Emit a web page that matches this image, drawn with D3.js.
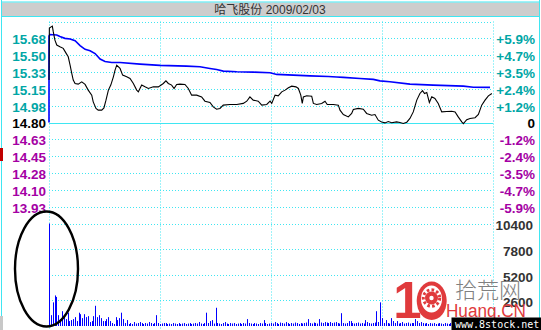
<!DOCTYPE html>
<html>
<head>
<meta charset="utf-8">
<script src="https://cdn.jsdelivr.net/npm/d3@7"></script>
<style>
  html, body { margin: 0; padding: 0; background: #fff; }
  svg { display: block; }
</style>
</head>
<body>
<svg id="chart" width="541" height="330"></svg>
<script>
// ---- data ----
const stockName = "哈飞股份";
const tradeDate = "2009/02/03";
const preClose = 14.80;

// left / right tick labels, top to bottom (+5 .. -5 steps)
const priceLabels = ["15.68", "15.50", "15.33", "15.15", "14.98", "14.80", "14.63", "14.45", "14.28", "14.10", "13.93"];
const pctLabels = ["+5.9%", "+4.7%", "+3.5%", "+2.4%", "+1.2%", "0", "-1.2%", "-2.4%", "-3.5%", "-4.7%", "-5.9%"];
const volTicks = [10400, 7800, 5200, 2600];
const volLabels = ["10400", "7800", "5200", "2600"];

// price line (minute, price)
const priceMinutes = [0, 0.2, 1.8, 2.3, 3.2, 4.2, 5.9, 7.7, 9.2, 10.4, 11.4, 12.3, 13.1, 14.1, 15.8, 17.7, 19.5, 21.2, 23.1, 23.9,
  25.4, 26.6, 28.5, 29.7, 30.8, 32.1, 33.4, 34.8, 35.7, 36.6, 38.4, 39.8, 42.0, 43.8, 45.6, 47.4, 48.3, 50.1, 51.9, 53.7,
  56.4, 59.1, 61.8, 63.2, 64.5, 66.3, 67.6, 69.0, 70.8, 73.5, 75.3, 77.1, 79.8, 82.5, 84.3, 87.0, 88.8, 90.6, 92.4, 94.2,
  97.8, 101.5, 105.0, 106.9, 108.6, 110.4, 113.1, 115.0, 117.7, 119.5, 120.4, 122.2, 123.9, 125.8, 127.6, 129.4, 131.2, 133.5, 134.8, 136.1,
  136.9, 137.5, 139.3, 142.0, 142.9, 144.7, 147.4, 149.2, 150.4, 153.7, 156.4, 157.3, 159.1, 161.8, 163.6, 164.5, 167.2, 169.9, 171.7, 174.4,
  176.2, 178.0, 179.8, 181.6, 183.4, 185.2, 187.9, 189.7, 191.5, 193.4, 195.1, 196.9, 198.8, 200.5, 201.9, 203.0, 204.2, 205.6, 206.9, 208.6,
  210.4, 212.3, 215.0, 217.7, 219.5, 221.2, 223.1, 224.0, 225.8, 227.6, 230.3, 232.1, 233.9, 235.7, 237.5, 239.4];
const prices = [15.24, 15.78, 15.80, 15.742, 15.655, 15.604, 15.586, 15.569, 15.520, 15.482, 15.395, 15.309, 15.240, 15.205, 15.198, 15.222, 15.195, 15.136, 15.084, 15.014,
  14.946, 14.928, 14.928, 14.952, 15.032, 15.136, 15.188, 15.274, 15.344, 15.395, 15.361, 15.292, 15.274, 15.257, 15.205, 15.136, 15.118, 15.188, 15.170, 15.153,
  15.170, 15.170, 15.205, 15.232, 15.205, 15.188, 15.153, 15.195, 15.198, 15.195, 15.153, 15.084, 15.084, 15.066, 15.021, 15.008, 14.962, 14.938, 14.946, 14.980,
  14.987, 14.987, 14.998, 15.021, 15.066, 15.032, 15.021, 14.980, 14.987, 15.021, 14.998, 15.084, 15.077, 15.118, 15.136, 15.160, 15.177, 15.170, 15.153, 15.084,
  14.998, 15.066, 15.077, 15.073, 14.998, 14.987, 14.998, 15.021, 14.987, 14.987, 14.980, 14.928, 14.883, 14.858, 14.894, 14.935, 14.946, 14.938, 14.894, 14.876,
  14.883, 14.824, 14.806, 14.796, 14.810, 14.798, 14.806, 14.800, 14.790, 14.803, 14.842, 14.910, 15.032, 15.101, 15.131, 15.101, 15.112, 15.008, 15.066, 15.050,
  14.998, 14.910, 14.914, 14.917, 14.910, 14.858, 14.806, 14.788, 14.829, 14.842, 14.850, 14.883, 14.980, 15.032, 15.077, 15.101];

// average price line (minute, price)
const avgMinutes = [0, 0, 0.5, 4.2, 5.9, 8.6, 11.4, 14.1, 16.8, 19.5, 22.2, 24.9, 27.6, 30.3, 33.9, 38.4, 49.2, 60.0, 74.4, 81.6,
  87.0, 90.6, 94.2, 101.5, 110.4, 119.5, 123.1, 132.1, 141.1, 151.0, 155.5, 159.1, 168.1, 175.3, 178.9, 184.3, 195.1, 207.7, 224.0, 229.4, 238.4];
const avgPrices = [14.80, 15.697, 15.713, 15.707, 15.692, 15.673, 15.666, 15.648, 15.598, 15.559, 15.544, 15.515, 15.458, 15.432, 15.422, 15.422, 15.406, 15.393, 15.385, 15.378,
  15.361, 15.349, 15.333, 15.326, 15.323, 15.316, 15.299, 15.292, 15.284, 15.278, 15.272, 15.268, 15.257, 15.247, 15.232, 15.222, 15.198, 15.188, 15.177, 15.165, 15.164];

// volume per minute, 0 .. 240
const volumes = [
  10400, 1100, 2400, 3100, 2950, 1100, 700, 1500, 900, 700,
  1350, 500, 600, 700, 900, 500, 1350, 1200, 800, 1200,
  900, 1000, 400, 500, 1000, 2050, 900, 1100, 800, 500,
  500, 700, 900, 500, 300, 200, 900, 600, 800, 1350,
  700, 300, 600, 200,
  300, 200, 400, 250, 300, 400, 300, 200, 300, 250, 400, 300, 200, 300,
  1100,
  300, 200, 250, 300, 300, 200, 250, 200, 300, 250, 200, 300, 200, 250, 300, 200, 250, 300, 200, 250, 300, 250,
  400, 250, 200, 300, 1350, 300, 500, 600, 250, 1850,
  300, 250, 200, 300, 400, 250, 200, 300, 250, 300, 200, 250, 300, 200, 300, 250,
  700, 300, 250, 200, 300, 250, 200, 300, 250, 600, 300, 200, 250,
  300, 250, 400, 300, 200, 350, 300, 250, 400, 300, 200, 300, 250, 350, 300, 200, 300, 250, 300, 350,
  700, 300, 250, 350, 300, 250, 700,
  350, 300, 400, 350, 300, 400, 300, 350, 400, 300, 250,
  1300, 300, 250, 300, 500, 500,
  300, 250, 300, 350, 250, 300, 250, 600,
  400, 300, 250, 300, 350, 1500, 400, 2400, 800,
  300, 600, 300, 250, 800,
  500, 300, 500, 250, 300, 400, 250, 300, 350, 250, 300, 300, 700,
  500, 300, 400, 300, 250, 300, 200, 300, 250, 300, 200, 250, 300, 250, 200, 300, 250, 200, 300, 250, 300,
  200, 250, 300, 250, 200, 300, 250, 300, 200, 250, 300, 250, 200, 300, 250, 300, 200, 250, 300, 250, 200];

// ---- drawing ----
const svg = d3.select("#chart");
const cyan = "#3fe6f2";
const teal = "#00a6a6";
const purple = "#a400a4";
const labelFont = "bold 13.5px 'Liberation Sans', Arial, sans-serif";

const step = preClose * 0.0118; // one grid row
const x = d3.scaleLinear().domain([0, 240]).range([49, 493]);
const y = d3.scaleLinear().domain([preClose - 6 * step, preClose + 6 * step]).range([223.5, 21.5]);
const yv = d3.scaleLinear().domain([0, 10400]).range([326, 223.5]);
const priceTickValues = priceLabels.map((d, i) => preClose + (5 - i) * step);

// frame and title bar
svg.append("rect").attr("x", 2).attr("y", 2.5).attr("width", 537).attr("height", 14).attr("fill", "#cdcdcd");
svg.append("line").attr("x1", 2).attr("x2", 539).attr("y1", 2).attr("y2", 2).attr("stroke", cyan);
svg.append("line").attr("x1", 2).attr("x2", 539).attr("y1", 16.5).attr("y2", 16.5).attr("stroke", cyan);
svg.append("line").attr("x1", 1.5).attr("x2", 1.5).attr("y1", 0).attr("y2", 330).attr("stroke", cyan);
svg.append("line").attr("x1", 539.5).attr("x2", 539.5).attr("y1", 0).attr("y2", 330).attr("stroke", cyan);
// bits of a neighbouring window on the left edge
svg.append("rect").attr("x", 0).attr("y", 148).attr("width", 3).attr("height", 13).attr("fill", "#c00000");
svg.append("rect").attr("x", 0).attr("y", 316).attr("width", 3).attr("height", 14).attr("fill", "#c8c8c8");

svg.append("text")
  .attr("x", 270).attr("y", 9.5)
  .attr("text-anchor", "middle").attr("dominant-baseline", "central")
  .style("font", "12px 'Liberation Sans', 'Noto Sans CJK SC', sans-serif")
  .attr("fill", "#333")
  .text(`${stockName} ${tradeDate}`);

// grid
const grid = svg.append("g").attr("stroke", cyan).attr("stroke-width", 1);
const hLevels = [preClose + 6 * step, ...priceTickValues, preClose - 6 * step];
grid.selectAll("line.h")
  .data(hLevels)
  .join("line")
  .attr("x1", x(0)).attr("x2", x(240))
  .attr("y1", d => Math.round(y(d)) + 0.5).attr("y2", d => Math.round(y(d)) + 0.5)
  .attr("stroke-dasharray", d => Math.abs(d - preClose) < 1e-6 ? null : "1,2");
grid.selectAll("line.v")
  .data(volTicks.slice(1))
  .join("line")
  .attr("x1", x(0)).attr("x2", x(240))
  .attr("y1", d => Math.round(yv(d)) + 0.5).attr("y2", d => Math.round(yv(d)) + 0.5)
  .attr("stroke-dasharray", "1,2");
grid.selectAll("line.t")
  .data([0, 60, 120, 180, 240])
  .join("line")
  .attr("x1", d => Math.round(x(d)) + 0.5).attr("x2", d => Math.round(x(d)) + 0.5)
  .attr("y1", y(preClose + 6 * step)).attr("y2", 330)
  .attr("stroke-dasharray", "1,2");

// axes labels
function styleAxis(g, colorFn) {
  g.select(".domain").remove();
  g.selectAll(".tick line").remove();
  g.selectAll(".tick text")
    .style("font", labelFont)
    .attr("dy", "0.4em")
    .attr("fill", colorFn);
}
const rowColor = (d, i) => i < 5 ? teal : (i === 5 ? "#000" : purple);

svg.append("g")
  .attr("transform", "translate(46,0)")
  .call(d3.axisLeft(y).tickValues(priceTickValues).tickFormat((d, i) => priceLabels[i]).tickSize(0).tickPadding(0))
  .call(g => styleAxis(g, rowColor));

svg.append("g")
  .attr("transform", "translate(535,0)")
  .call(d3.axisLeft(y).tickValues(priceTickValues).tickFormat((d, i) => pctLabels[i]).tickSize(0).tickPadding(0))
  .call(g => styleAxis(g, rowColor));

svg.append("g")
  .attr("transform", "translate(533,1)")
  .call(d3.axisLeft(yv).tickValues(volTicks).tickFormat((d, i) => volLabels[i]).tickSize(0).tickPadding(0))
  .call(g => styleAxis(g, "#333"));

// volume bars
svg.append("g")
  .selectAll("line")
  .data(volumes)
  .join("line")
  .attr("x1", (d, i) => Math.round(x(i)) + 0.5).attr("x2", (d, i) => Math.round(x(i)) + 0.5)
  .attr("y1", yv(0)).attr("y2", d => yv(d))
  .attr("stroke", "#0000ff").attr("stroke-width", 1);

// average line and price line
const avgLine = d3.line().x(d => x(d[0])).y(d => y(d[1]));
svg.append("path")
  .attr("d", avgLine(avgMinutes.map((m, i) => [m, avgPrices[i]])))
  .attr("fill", "none").attr("stroke", "#0000ff").attr("stroke-width", 1.6);
svg.append("path")
  .attr("d", avgLine(priceMinutes.map((m, i) => [m, prices[i]])))
  .attr("fill", "none").attr("stroke", "#000").attr("stroke-width", 1.1);

// hand drawn ellipse around the opening volume
svg.append("ellipse")
  .attr("cx", 46.5).attr("cy", 269).attr("rx", 31.5).attr("ry", 57.5)
  .attr("fill", "none").attr("stroke", "#000").attr("stroke-width", 2.4);

// watermark
const red = "#e03a3c";
const wm = svg.append("g");
wm.append("rect").attr("x", 397).attr("y", 279).attr("width", 96).attr("height", 38).attr("fill", "#fff");
wm.append("text")
  .attr("x", 407.5).attr("y", 318).attr("text-anchor", "middle")
  .style("font", "bold 51px 'Liberation Sans', Arial, sans-serif")
  .attr("fill", red).text("1");
wm.append("ellipse").attr("cx", 431.7).attr("cy", 300.8).attr("rx", 15).attr("ry", 19.2).attr("fill", red);
wm.append("ellipse").attr("cx", 431.5).attr("cy", 299).attr("rx", 10.5).attr("ry", 13.5).attr("fill", "#fff");
wm.append("circle").attr("cx", 431.5).attr("cy", 298).attr("r", 6.5).attr("fill", red);
wm.append("circle").attr("cx", 431.5).attr("cy", 298).attr("r", 8.2)
  .attr("fill", "none").attr("stroke", red).attr("stroke-width", 3).attr("stroke-dasharray", "2.6,2.2");
wm.append("circle").attr("cx", 431.5).attr("cy", 298).attr("r", 2.2).attr("fill", "#fff");
wm.append("text")
  .attr("x", 455).attr("y", 298)
  .style("font", "300 22px 'Noto Sans CJK SC', sans-serif")
  .attr("fill", "#808080").text("拾荒网");
wm.append("text")
  .attr("x", 446).attr("y", 317)
  .attr("textLength", 80).attr("lengthAdjust", "spacingAndGlyphs")
  .style("font", "18px 'Liberation Sans', Arial, sans-serif")
  .attr("fill", red).text("Huang.CN");
wm.append("rect").attr("x", 451.5).attr("y", 317.5).attr("width", 90).attr("height", 13).attr("fill", "#000");
wm.append("text")
  .attr("x", 455).attr("y", 328)
  .style("font", "10px 'DejaVu Sans Mono', monospace")
  .attr("fill", "#fff").text("www.8stock.net");
</script>
</body>
</html>
